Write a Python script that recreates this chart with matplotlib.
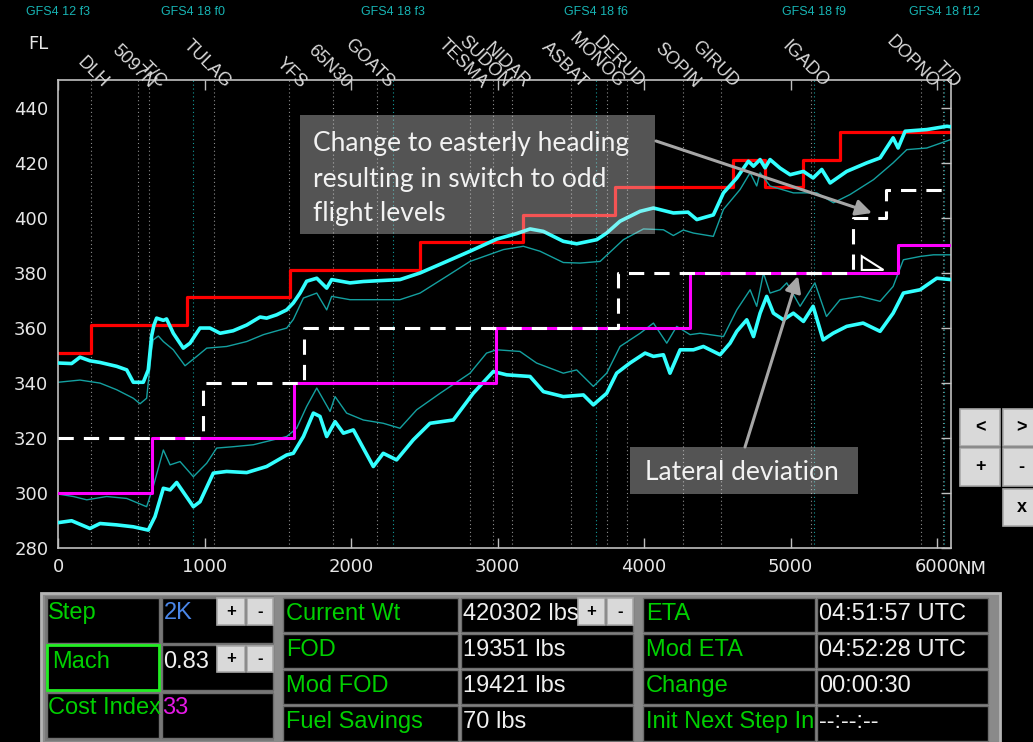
import matplotlib
matplotlib.use("Agg")
import matplotlib.pyplot as plt
from matplotlib.patches import Rectangle, Polygon

W, H = 1033, 742
DPI = 100

# ---- profile data (distance in NM, flight level) ----
red_nm = [0, 225, 880, 1583, 2471, 3174, 3802, 4607, 4826, 5085, 5338, 6095]
red_fl = [351, 361, 371, 381, 391, 401, 411, 421, 411, 421, 431, 431]

mag_nm = [0, 640, 1611, 2990, 4314, 5734, 6095]
mag_fl = [300, 320, 340, 360, 380, 390, 390]

plan_nm = [0, 990, 1679, 3823, 5427, 5652, 6035]
plan_fl = [320, 340, 360, 380, 400, 410, 410]

tri_nm = [5486, 5486, 5634]
tri_fl = [381, 386, 381]

up_nm = [0, 93, 150, 218, 287, 400, 469, 514, 582, 616, 639, 655, 673, 719, 741,
         787, 855, 901, 969, 1037, 1106, 1195, 1288, 1379, 1424, 1492, 1561, 1606,
         1652, 1697, 1766, 1834, 1868, 1993, 2084, 2334, 2471, 2653, 2812, 2994,
         3130, 3222, 3313, 3449, 3540, 3677, 3745, 3836, 3973, 4064, 4200, 4300,
         4360, 4473, 4542, 4633, 4712, 4747, 4792, 4826, 4860, 4928, 4997, 5088,
         5154, 5213, 5270, 5383, 5520, 5611, 5700, 5734, 5782, 5930, 6067, 6095]
up_fl = [347.2, 347, 349.3, 348, 347.4, 346, 344.7, 340.2, 340.2, 344.7, 357, 361,
         363.5, 362.7, 363.2, 358, 352.6, 354.4, 359.9, 359.9, 358, 358.9, 361,
         363.9, 363.5, 364.7, 366.5, 369, 372.6, 376.9, 378, 374.4, 377.5, 376.3,
         376.8, 377.5, 379.9, 384.1, 387.8, 392.2, 394.2, 395.9, 395, 391.4, 390.5,
         392, 394.4, 398.7, 402.3, 403.5, 401.7, 402, 399.3, 401, 409, 414.4, 420.5,
         418.7, 421.1, 418.1, 421.1, 418, 415.6, 416.8, 414.4, 417.5, 412.6, 416.8,
         419.9, 421.7, 429, 425.3, 431.4, 432, 433.2, 433]

upt_nm = [0, 150, 287, 400, 514, 560, 605, 639, 650, 685, 719, 787, 867, 947, 1015,
          1151, 1288, 1402, 1561, 1606, 1675, 1766, 1834, 1868, 1993, 2334, 2471,
          2653, 2812, 3040, 3176, 3290, 3449, 3563, 3700, 3859, 3996, 4132, 4200,
          4268, 4337, 4473, 4542, 4655, 4724, 4769, 4792, 4860, 5019, 5179, 5293,
          5406, 5566, 5700, 5793, 5930, 6095]
upt_fl = [340.2, 341, 339.9, 337.5, 334.4, 332.4, 334.4, 352, 355.6, 357, 355, 352,
          346.2, 349.6, 352.6, 353.2, 355, 357.5, 359.9, 363, 370.8, 372.6, 366.5,
          371.4, 370.2, 370.2, 372.6, 378.7, 384.1, 388.4, 389.6, 387.8, 383.7,
          383.5, 384.1, 392, 395.9, 395.6, 393.5, 395.5, 394.4, 393.2, 403, 410.2,
          416.3, 411.5, 416.3, 411.5, 409, 409, 405.4, 408.4, 413.8, 419.9, 424.7,
          425.3, 428.4]

lo_nm = [0, 93, 218, 287, 400, 514, 616, 662, 719, 765, 810, 924, 969, 1060, 1151,
         1288, 1424, 1561, 1606, 1675, 1743, 1788, 1834, 1891, 1948, 2016, 2152,
         2220, 2311, 2425, 2539, 2698, 2834, 2971, 3062, 3222, 3313, 3449, 3586,
         3654, 3745, 3813, 3904, 4007, 4064, 4132, 4177, 4246, 4337, 4405, 4519,
         4587, 4633, 4701, 4747, 4792, 4837, 4883, 4951, 5019, 5088, 5154, 5222,
         5290, 5383, 5495, 5611, 5700, 5770, 5884, 5998, 6095]
lo_fl = [289.2, 289.9, 287.1, 288.9, 288.4, 287.7, 286.5, 291.4, 301.7, 301.1,
         303.8, 295, 296.8, 307.2, 307.8, 307.4, 309.6, 313.8, 314.4, 320.5, 329,
         327.8, 320.5, 325.9, 321.7, 322.9, 309.6, 314.4, 312, 319.3, 325.3, 326.5,
         336.2, 344.1, 342.9, 342.3, 336.8, 335, 335.6, 332, 336.2, 343.5, 347.2,
         350.8, 349.6, 350.2, 343.5, 352, 352, 353.2, 350.2, 354.4, 358.7, 362.9,
         356.8, 365.3, 371.4, 365.3, 362.9, 365.3, 362.3, 367.8, 355.6, 358, 360.5,
         361.7, 358.7, 365.3, 372.6, 373.8, 378, 377.5]

lot_nm = [0, 105, 196, 332, 469, 605, 650, 719, 765, 833, 924, 1015, 1083, 1197,
          1333, 1470, 1561, 1629, 1697, 1766, 1857, 1891, 1970, 2084, 2220, 2334,
          2448, 2608, 2812, 2925, 2994, 3153, 3266, 3449, 3540, 3654, 3745, 3836,
          3973, 4064, 4155, 4223, 4314, 4382, 4542, 4633, 4724, 4769, 4815, 4860,
          4928, 4974, 5065, 5166, 5245, 5338, 5475, 5611, 5700, 5770, 5884, 5975,
          6095]
lot_fl = [299.6, 298.7, 297.5, 298.7, 298, 295, 302.3, 315.6, 310.2, 311.4, 305.9,
          310.8, 316.3, 316.8, 317.5, 319.3, 320.5, 323.5, 331.4, 338.1, 329.6, 335,
          329, 326.5, 325.3, 323.5, 330.2, 336.2, 343.5, 350.8, 352, 351.4, 347.2,
          343.5, 344.7, 338.7, 343.5, 353.2, 358, 361.7, 354.4, 360.5, 357.5, 358,
          356.8, 366.5, 373.8, 367.8, 379.9, 372.6, 373.8, 376.3, 367.8, 376.3,
          364.1, 370.2, 371.4, 369.6, 375, 384.7, 385.9, 386.5, 386.5]

wp_names = ["DLH", "5097N", "T/C", "TULAG", "YFS", "65N30", "GOATS", "TESMA",
            "SUDON", "NIDAR", "ASBAT", "MONOG", "DERUD", "SOPIN", "GIRUD",
            "IGADO", "DOPNO", "T/D"]
wp_nm = [225, 546, 621, 1066, 1578, 1879, 2177, 2812, 2969, 3097, 3500, 3745,
         3884, 4265, 4525, 5140, 5890, 6041]

gfs_names = ["GFS4 12 f3", "GFS4 18 f0", "GFS4 18 f3", "GFS4 18 f6",
             "GFS4 18 f9", "GFS4 18 f12"]
gfs_nm = [0, 920, 2288, 3670, 5160, 6048]

x_ticks = [0, 1000, 2000, 3000, 4000, 5000, 6000]
y_ticks = [280, 300, 320, 340, 360, 380, 400, 420, 440]

# table contents
mid_labels = ["Current Wt", "FOD", "Mod FOD", "Fuel Savings"]
mid_values = ["420302 lbs", "19351 lbs", "19421 lbs", "70 lbs"]
right_labels = ["ETA", "Mod ETA", "Change", "Init Next Step In"]
right_values = ["04:51:57 UTC", "04:52:28 UTC", "00:00:30", "--:--:--"]

GREEN = "#00d000"
TXT = "#f0f0f0"
GRID = "#8c8c8c"
TEAL_DOT = "#139a9a"

fig = plt.figure(figsize=(W / DPI, H / DPI), dpi=DPI, facecolor="black")
ax = fig.add_axes([58 / W, 1 - 548 / H, (951 - 58) / W, (548 - 80) / H])
ax.set_facecolor("black")
ax.set_xlim(0, 6095)
ax.set_ylim(280, 450)

for x in wp_nm:
    ax.axvline(x, color=GRID, ls=(0, (1, 2.5)), lw=0.8, zorder=1)
for x in gfs_nm[1:]:
    ax.axvline(x, color=TEAL_DOT, ls=(0, (1, 2.5)), lw=0.8, zorder=1)

ax.plot(upt_nm, upt_fl, color="#14a0a0", lw=1.0, zorder=2.5)
ax.plot(lot_nm, lot_fl, color="#14a0a0", lw=1.0, zorder=2.5)
ax.step(red_nm, red_fl, where="post", color="#ff0000", lw=2.3, zorder=2)
ax.plot(up_nm, up_fl, color="#33ffff", lw=2.6, zorder=3)
ax.plot(lo_nm, lo_fl, color="#33ffff", lw=2.6, zorder=3)
ax.step(mag_nm, mag_fl, where="post", color="#ff00ff", lw=2.2, zorder=3.5)
ax.step(plan_nm, plan_fl, where="post", color="white", lw=2.2,
        dashes=(5, 3.3), zorder=4)
ax.add_patch(Polygon(list(zip(tri_nm, tri_fl)), closed=True, fc="black",
                     ec="white", lw=1.5, zorder=4))

ax.set_xticks(x_ticks)
ax.set_yticks(y_ticks)
ax.tick_params(axis="both", direction="in", colors="#bfbfbf", labelcolor="#e6e6e6",
               labelsize=13, length=7, width=1, top=True, right=True, left=False)
ax.tick_params(axis="y", pad=7)
ax.tick_params(axis="x", pad=7)
for lab in ax.get_xticklabels() + ax.get_yticklabels():
    lab.set_family("DejaVu Sans")
for s in ax.spines.values():
    s.set_color("#bfbfbf")
    s.set_linewidth(1.2)

# waypoint names, slanted above the plot
for name, x in zip(wp_names, wp_nm):
    ax.annotate(name, xy=(x, 1), xycoords=("data", "axes fraction"),
                xytext=(8, -6), textcoords="offset points", rotation=-45,
                rotation_mode="anchor", ha="right", va="baseline",
                fontsize=13, color="#d9d9d9", family="Liberation Sans")

# weather model boundaries on the top strip
for name, x in zip(gfs_names, gfs_nm):
    ax.annotate(name, xy=(x, 1), xycoords=("data", "axes fraction"),
                xytext=(0, (80 - 12) * 72 / DPI), textcoords="offset points",
                ha="center", va="center", fontsize=9, color="#17b3b3",
                family="Liberation Sans")

# ---- overlay in pixel coordinates for the UI parts ----
ov = fig.add_axes([0, 0, 1, 1])
ov.set_xlim(0, W)
ov.set_ylim(H, 0)
ov.axis("off")
ov.patch.set_alpha(0)
ov.set_zorder(5)


def box(x0, y0, x1, y1, fc="black", ec="#6e6e6e", lw=1.0, **kw):
    ov.add_patch(Rectangle((x0, y0), x1 - x0, y1 - y0, fc=fc, ec=ec, lw=lw, **kw))


def button(x0, y0, x1, y1, label, size=13):
    box(x0, y0, x1, y1, fc="#d9d9d9", ec="#a8a8a8", lw=1.2)
    ov.text((x0 + x1) / 2, (y0 + y1) / 2, label, ha="center", va="center",
            fontsize=size, fontweight="bold", color="black",
            family="Liberation Sans")


ov.text(28, 44, "FL", fontsize=13, color="#e6e6e6", va="center",
        family="DejaVu Sans")
ov.text(957, 569, "NM", fontsize=13, color="#e6e6e6", va="center",
        family="DejaVu Sans")

# annotation boxes (light, see-through)
box(300, 115, 655, 234, fc="#e6e6e6", ec="none", lw=0, alpha=0.37)
ov.text(313, 179, "Change to easterly heading\nresulting in switch to odd\nflight levels",
        fontsize=19, color="#f2f2f2", va="center", ha="left",
        linespacing=1.5, family="Lato")
box(630, 447, 858, 494, fc="#e6e6e6", ec="none", lw=0, alpha=0.37)
ov.text(645, 472, "Lateral deviation", fontsize=19, color="#f2f2f2",
        va="center", ha="left", family="Lato")
arrow = dict(arrowstyle="-|>", color="#a6a6a6", lw=2.2, mutation_scale=24,
             shrinkA=0, shrinkB=0)
ov.annotate("", xy=(872, 213), xytext=(656, 141), arrowprops=arrow)
ov.annotate("", xy=(798, 276), xytext=(745, 447), arrowprops=arrow)

# navigation buttons
button(960, 409, 1000, 446, "<")
button(1003, 409, 1040, 446, ">")
button(960, 448, 1000, 486, "+")
button(1003, 448, 1040, 486, "-")
button(1003, 489, 1040, 526, "x")

# bottom table
box(41, 593, 1000, 750, fc="#8a8a8a", ec="#b5b5b5", lw=2)
FS = 17
row_y = [(598, 632), (634, 668), (670, 704), (706, 741)]

# left panel
box(45, 596, 274, 741, fc="#7a7a7a", ec="none", lw=0)
box(47, 598, 159, 643)
box(162, 598, 273, 643)
box(47, 645, 159, 690, ec="#22ee22", lw=2)
box(162, 645, 273, 690)
box(47, 693, 159, 738)
box(162, 693, 273, 738)
ov.text(48, 613, "Step", color=GREEN, fontsize=FS, va="center", family="Liberation Sans")
ov.text(164, 613, "2K", color="#4a86e8", fontsize=FS, va="center", family="Liberation Sans")
ov.text(52, 662, "Mach", color=GREEN, fontsize=FS, va="center", family="Liberation Sans")
ov.text(163, 662, "0.83", color=TXT, fontsize=FS, va="center", family="Liberation Sans")
ov.text(48, 708, "Cost Index", color=GREEN, fontsize=FS, va="center", family="Liberation Sans")
ov.text(162, 708, "33", color="#e619e6", fontsize=FS, va="center", family="Liberation Sans")
button(217, 598, 245, 625, "+", 12)
button(247, 598, 273, 625, "-", 12)
button(217, 646, 245, 672, "+", 12)
button(247, 646, 273, 672, "-", 12)

# middle panel
for (y0, y1), lab, val in zip(row_y, mid_labels, mid_values):
    box(283, y0, 458, y1)
    box(461, y0, 633, y1)
    ov.text(286, y0 + 16, lab, color=GREEN, fontsize=FS, va="center",
            family="Liberation Sans")
    ov.text(463, y0 + 16, val, color=TXT, fontsize=FS, va="center",
            family="Liberation Sans")
button(578, 598, 605, 625, "+", 12)
button(607, 598, 633, 625, "-", 12)

# right panel
for (y0, y1), lab, val in zip(row_y, right_labels, right_values):
    box(643, y0, 815, y1)
    box(817, y0, 988, y1)
    ov.text(646, y0 + 16, lab, color=GREEN, fontsize=FS, va="center",
            family="Liberation Sans")
    ov.text(819, y0 + 16, val, color=TXT, fontsize=FS, va="center",
            family="Liberation Sans")

fig.savefig("out.png", dpi=DPI, facecolor="black")
